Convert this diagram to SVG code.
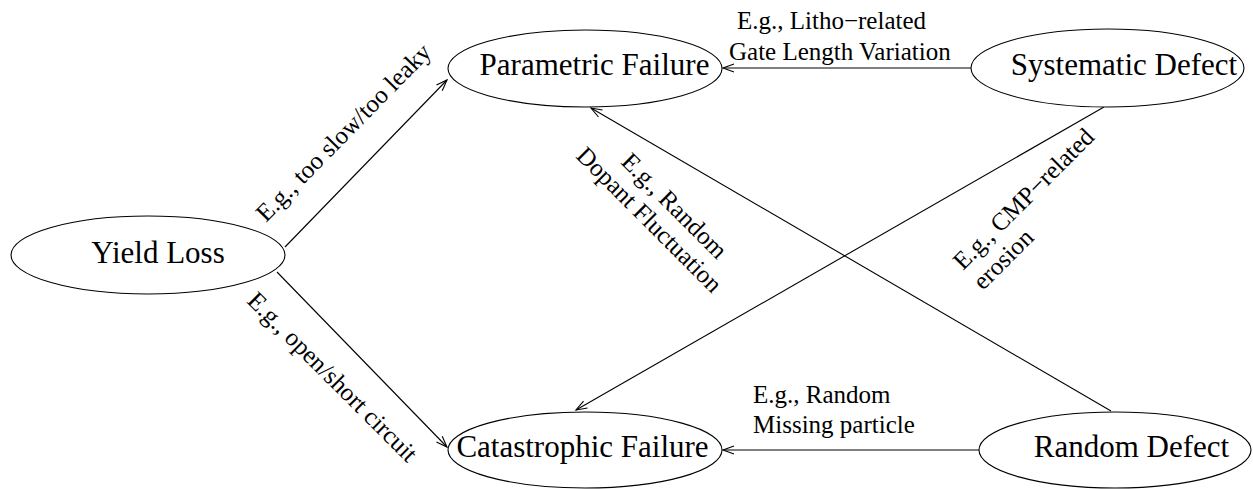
<svg xmlns="http://www.w3.org/2000/svg" width="1253" height="489" viewBox="0 0 1253 489">
<style>
.node ellipse{fill:#fff;stroke:#000;stroke-width:1.1}
.nt{font-family:"Liberation Serif","Times New Roman",serif;font-size:31px;fill:#000;text-anchor:middle}
.lbl{font-family:"Liberation Serif","Times New Roman",serif;font-size:25px;fill:#000}
.edge{stroke:#000;stroke-width:1.1;fill:none;marker-end:url(#arr)}
</style>
<defs>
<marker id="arr" markerUnits="userSpaceOnUse" markerWidth="14" markerHeight="12" viewBox="-12 -6 14 12" refX="0" refY="0" orient="auto">
<path d="M-11,-4 L0,0 L-11,4" fill="none" stroke="#000" stroke-width="1.1"/>
</marker>
</defs>
<rect width="1253" height="489" fill="#fff"/>
<g id="connectors">
<line class="edge" x1="285" y1="247" x2="447" y2="80"/>
<line class="edge" x1="277" y1="272" x2="447" y2="447"/>
<line class="edge" x1="971" y1="68" x2="723" y2="68"/>
<line class="edge" x1="979" y1="450" x2="723" y2="450"/>
<line class="edge" x1="1111" y1="411" x2="591" y2="108"/>
<line class="edge" x1="1104" y1="107" x2="576" y2="410"/>
<text class="lbl" transform="translate(266,223) rotate(-45.5)">E.g., too slow/too leaky</text>
<text class="lbl" transform="translate(246,302) rotate(45)">E.g., open/short circuit</text>
<text class="lbl" x="737" y="29">E.g., Litho−related</text>
<text class="lbl" x="729" y="60">Gate Length Variation</text>
<text class="lbl" x="753" y="403">E.g., Random</text>
<text class="lbl" x="753" y="433">Missing particle</text>
<text class="lbl" transform="translate(620,163) rotate(45)">E.g., Random</text>
<text class="lbl" transform="translate(575,157) rotate(45)">Dopant Fluctuation</text>
<text class="lbl" transform="translate(963,271) rotate(-45)">E.g., CMP−related</text>
<text class="lbl" transform="translate(983,291) rotate(-45)">erosion</text>
</g>
<g id="yield-loss" class="node">
<ellipse cx="148" cy="255" rx="137" ry="39"/>
<text class="nt" x="158" y="263">Yield Loss</text>
</g>
<g id="parametric-failure" class="node">
<ellipse cx="585" cy="68.5" rx="137" ry="38.5"/>
<text class="nt" x="594.5" y="75">Parametric Failure</text>
</g>
<g id="catastrophic-failure" class="node">
<ellipse cx="585" cy="450" rx="137" ry="38"/>
<text class="nt" x="582.5" y="457">Catastrophic Failure</text>
</g>
<g id="systematic-defect" class="node">
<ellipse cx="1107.5" cy="68" rx="136.5" ry="39"/>
<text class="nt" x="1124" y="75">Systematic Defect</text>
</g>
<g id="random-defect" class="node">
<ellipse cx="1115" cy="450" rx="136" ry="38"/>
<text class="nt" x="1131.5" y="457">Random Defect</text>
</g>
</svg>
